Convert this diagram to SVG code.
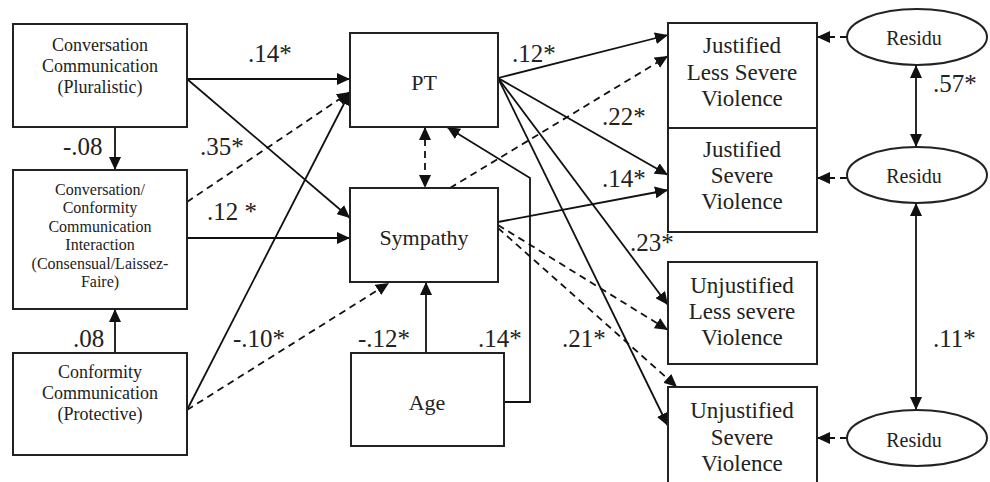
<svg xmlns="http://www.w3.org/2000/svg" width="990" height="482" viewBox="0 0 990 482">
<style>
.box{fill:#fff;stroke:#222;stroke-width:2}
.t{font-family:'Liberation Serif','DejaVu Serif',serif;fill:#222;text-anchor:middle}
.s16{font-size:16px}.s18{font-size:18px}.s22{font-size:22px}.s23{font-size:23px}.s20{font-size:20px}
.c{font-family:'Liberation Serif','DejaVu Serif',serif;fill:#222;font-size:25px}
.ln{fill:none;stroke:#111;stroke-width:1.8}
.d{stroke-dasharray:7 5}
.a{marker-end:url(#ah)}
.b{marker-start:url(#ah);marker-end:url(#ah)}
</style>
<defs>
<marker id="ah" viewBox="0 0 13 12" refX="13" refY="6" markerWidth="13" markerHeight="12" markerUnits="userSpaceOnUse" orient="auto-start-reverse"><path d="M0,0 L13,6 L0,12 z" fill="#111"/></marker>
</defs>
<rect width="990" height="482" fill="#fff"/>
<g id="connectors">
<line class="ln a" x1="115" y1="127" x2="115" y2="170"/>
<line class="ln a" x1="115" y1="353" x2="115" y2="309"/>
<line class="ln a" x1="187" y1="79" x2="350" y2="79"/>
<line class="ln a" x1="187" y1="79" x2="350" y2="218"/>
<line class="ln d a" x1="187" y1="202" x2="350" y2="92"/>
<line class="ln a" x1="187" y1="238" x2="350" y2="238"/>
<line class="ln a" x1="187" y1="410" x2="350" y2="92"/>
<line class="ln d a" x1="187" y1="410" x2="389" y2="283"/>
<line class="ln d b" x1="425" y1="127" x2="425" y2="188"/>
<line class="ln a" x1="426" y1="353" x2="426" y2="282"/>
<polyline class="ln a" points="504,402 530,402 530,178 447,127"/>
<line class="ln a" x1="498" y1="78" x2="668" y2="35"/>
<line class="ln a" x1="498" y1="78" x2="668" y2="175"/>
<line class="ln a" x1="498" y1="78" x2="668" y2="305"/>
<line class="ln a" x1="498" y1="78" x2="668" y2="426"/>
<line class="ln a" x1="498" y1="222" x2="668" y2="190"/>
<line class="ln d a" x1="450" y1="188" x2="668" y2="56"/>
<line class="ln d a" x1="498" y1="225" x2="668" y2="330"/>
<line class="ln d a" x1="498" y1="228" x2="677" y2="387"/>
<line class="ln d a" x1="847" y1="37" x2="817" y2="37"/>
<line class="ln d a" x1="847" y1="178" x2="817" y2="178"/>
<line class="ln d a" x1="847" y1="438" x2="817" y2="438"/>
<line class="ln b" x1="916" y1="65" x2="916" y2="147"/>
<line class="ln b" x1="916" y1="203" x2="916" y2="410"/>
</g>
<g id="labels">
<text class="c" x="248" y="62">.14*</text>
<text class="c" x="63" y="155">-.08</text>
<text class="c" x="200" y="155">.35*</text>
<text class="c" x="207" y="220">.12 *</text>
<text class="c" x="73" y="347">.08</text>
<text class="c" x="233" y="347">-.10*</text>
<text class="c" x="358" y="347">-.12*</text>
<text class="c" x="478" y="347">.14*</text>
<text class="c" x="562" y="347">.21*</text>
<text class="c" x="512" y="62">.12*</text>
<text class="c" x="602" y="125">.22*</text>
<text class="c" x="602" y="187">.14*</text>
<text class="c" x="630" y="251">.23*</text>
<text class="c" x="933" y="92">.57*</text>
<text class="c" x="933" y="347">.11*</text>
</g>
<g id="n-pluralistic">
<rect class="box" x="13" y="24" width="174" height="103"/>
<text class="t s18" x="100" y="51">Conversation</text>
<text class="t s18" x="100" y="72">Communication</text>
<text class="t s18" x="100" y="93">(Pluralistic)</text>
</g>
<g id="n-interaction">
<rect class="box" x="13" y="170" width="174" height="139"/>
<text class="t s16" x="100" y="195">Conversation/</text>
<text class="t s16" x="100" y="213">Conformity</text>
<text class="t s16" x="100" y="232">Communication</text>
<text class="t s16" x="100" y="250">Interaction</text>
<text class="t s16" x="100" y="269">(Consensual/Laissez-</text>
<text class="t s16" x="100" y="287">Faire)</text>
</g>
<g id="n-protective">
<rect class="box" x="13" y="353" width="174" height="102"/>
<text class="t s18" x="100" y="378">Conformity</text>
<text class="t s18" x="100" y="399">Communication</text>
<text class="t s18" x="100" y="420">(Protective)</text>
</g>
<g id="n-pt">
<rect class="box" x="350" y="33" width="148" height="94"/>
<text class="t s22" x="424" y="90">PT</text>
</g>
<g id="n-sympathy">
<rect class="box" x="350" y="188" width="148" height="94"/>
<text class="t s22" x="424" y="245">Sympathy</text>
</g>
<g id="n-age">
<rect class="box" x="351" y="353" width="153" height="93"/>
<text class="t s22" x="427" y="410">Age</text>
</g>
<g id="n-jlsv">
<rect class="box" x="668" y="23" width="149" height="105"/>
<text class="t s23" x="742" y="53">Justified</text>
<text class="t s23" x="742" y="80">Less Severe</text>
<text class="t s23" x="742" y="106">Violence</text>
</g>
<g id="n-jsv">
<rect class="box" x="668" y="128" width="149" height="104"/>
<text class="t s23" x="742" y="157">Justified</text>
<text class="t s23" x="742" y="183">Severe</text>
<text class="t s23" x="742" y="209">Violence</text>
</g>
<g id="n-ulsv">
<rect class="box" x="668" y="262" width="149" height="102"/>
<text class="t s23" x="742" y="293">Unjustified</text>
<text class="t s23" x="742" y="319">Less severe</text>
<text class="t s23" x="742" y="345">Violence</text>
</g>
<g id="n-usv">
<rect class="box" x="668" y="387" width="149" height="103"/>
<text class="t s23" x="742" y="418">Unjustified</text>
<text class="t s23" x="742" y="445">Severe</text>
<text class="t s23" x="742" y="471">Violence</text>
</g>
<g id="n-res1">
<ellipse class="box" cx="917" cy="37" rx="70" ry="28"/>
<text class="t s20" x="914" y="45">Residu</text>
</g>
<g id="n-res2">
<ellipse class="box" cx="917" cy="175" rx="70" ry="28"/>
<text class="t s20" x="914" y="183">Residu</text>
</g>
<g id="n-res3">
<ellipse class="box" cx="917" cy="438" rx="70" ry="28"/>
<text class="t s20" x="914" y="447">Residu</text>
</g>
</svg>
